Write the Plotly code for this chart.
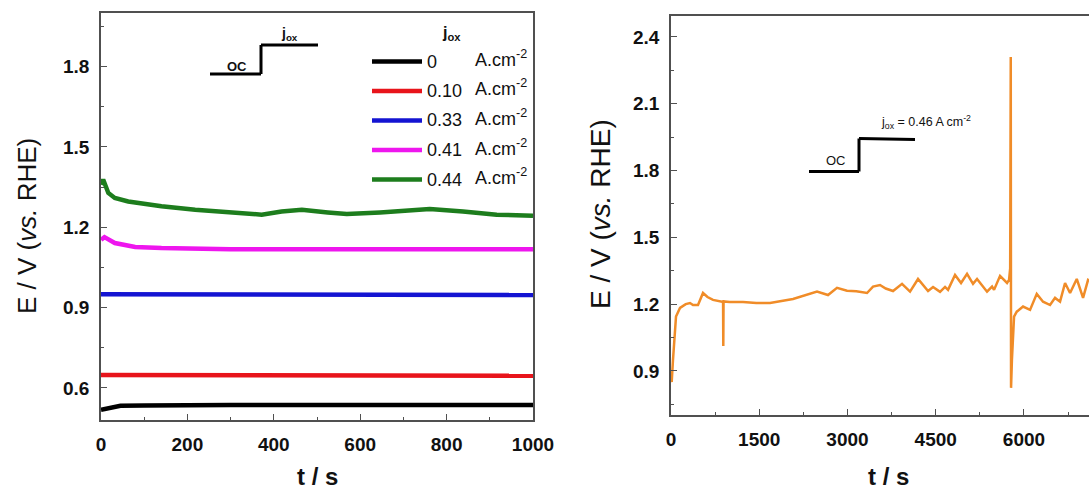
import plotly.graph_objects as go

# ---------------- data (left panel) ----------------
jox_labels = ["0", "0.10", "0.33", "0.41", "0.44"]
colors = ["#000000", "#E8141B", "#1414D2", "#EE16EE", "#1D7D1D"]

t_black = [0, 10, 30, 45, 100, 200, 300, 1000]
E_black = [0.518, 0.522, 0.526, 0.533, 0.534, 0.536, 0.536, 0.536]

t_red = [0, 400, 410, 1000]
E_red = [0.648, 0.648, 0.645, 0.645]

t_blue = [0, 220, 230, 1000]
E_blue = [0.950, 0.950, 0.947, 0.947]

t_mag = [0, 8, 32, 79, 140, 218, 300, 1000]
E_mag = [1.153, 1.163, 1.141, 1.126, 1.122, 1.118, 1.118, 1.118]

t_green = [0, 5, 17, 32, 63, 140, 218, 294, 372, 418, 465, 525, 569, 646, 761, 838, 916, 1000]
E_green = [1.359, 1.378, 1.328, 1.309, 1.296, 1.278, 1.265, 1.255, 1.247, 1.259, 1.265,
           1.255, 1.249, 1.255, 1.268, 1.259, 1.247, 1.243]

left_t = [t_black, t_red, t_blue, t_mag, t_green]
left_E = [E_black, E_red, E_blue, E_mag, E_green]

# ---------------- data (right panel) ----------------
t_orange = [0, 12, 34, 60, 85, 153, 250, 323, 374, 459, 544, 620, 714, 867, 885, 889, 893,
            1000, 1224, 1450, 1683, 2074, 2300, 2482, 2669, 2822, 2992, 3150, 3332, 3434,
            3553, 3650, 3774, 3927, 4063, 4199, 4369, 4454, 4573, 4658, 4709, 4828, 4930,
            5032, 5134, 5202, 5372, 5457, 5491, 5593, 5712, 5746, 5765, 5775, 5780, 5795,
            5831, 5877, 5984, 6103, 6217, 6324, 6443, 6528, 6613, 6698, 6783, 6897, 7004,
            7089, 7150]
E_orange = [0.86, 0.85, 0.95, 1.08, 1.144, 1.183, 1.20, 1.205, 1.196, 1.196, 1.25, 1.232,
            1.219, 1.211, 1.212, 1.012, 1.212, 1.21, 1.21, 1.205, 1.205, 1.223, 1.24, 1.256,
            1.241, 1.273, 1.26, 1.258, 1.25, 1.279, 1.286, 1.27, 1.259, 1.291, 1.256, 1.313,
            1.259, 1.277, 1.255, 1.277, 1.264, 1.331, 1.295, 1.336, 1.291, 1.313, 1.256,
            1.279, 1.264, 1.327, 1.295, 1.309, 1.36, 2.31, 0.824, 0.95, 1.144, 1.166, 1.189,
            1.174, 1.246, 1.211, 1.196, 1.228, 1.211, 1.295, 1.25, 1.313, 1.228, 1.309, 1.30]

W, H = 1089, 490
FONT = "Liberation Sans, Arial, sans-serif"
AXC = "#505050"


def px(x):
    return x / W


def py(y):
    return 1 - y / H


fig = go.Figure()

for tt, ee, c, lab in zip(left_t, left_E, colors, jox_labels):
    fig.add_trace(go.Scatter(x=tt, y=ee, mode="lines", line=dict(color=c, width=4.5),
                             name=lab, showlegend=False, xaxis="x", yaxis="y"))

fig.add_trace(go.Scatter(x=t_orange, y=E_orange, mode="lines",
                         line=dict(color="#F08C28", width=2.5), showlegend=False,
                         xaxis="x2", yaxis="y2"))

tickfont = dict(family=FONT, size=19, color="#111", weight="bold")
common = dict(showline=True, linecolor=AXC, linewidth=1.5, ticks="inside", ticklen=6,
              tickcolor=AXC, tickwidth=1.2, showgrid=False, zeroline=False,
              tickfont=tickfont, ticklabelstandoff=6)

fig.update_layout(
    width=W, height=H, margin=dict(l=0, r=0, t=0, b=0, autoexpand=False),
    plot_bgcolor="white", paper_bgcolor="white",
    xaxis=dict(domain=[px(101), px(533)], range=[0, 1000], dtick=200, tick0=0,
               mirror=True, anchor="y",
               minor=dict(ticks="inside", ticklen=3, dtick=100, tickcolor=AXC), **common),
    yaxis=dict(domain=[py(420), py(13)], range=[0.48, 2.0], dtick=0.3, tick0=0,
               tickformat=".1f", mirror=True, anchor="x",
               minor=dict(ticks="inside", ticklen=3, dtick=0.15, tickcolor=AXC), **common),
    xaxis2=dict(domain=[px(671), 1.0], range=[0, 7105], dtick=1500, tick0=0,
                mirror=True, anchor="y2",
                minor=dict(ticks="inside", ticklen=3, dtick=750, tickcolor=AXC), **common),
    yaxis2=dict(domain=[py(415), py(16)], range=[0.702, 2.494], dtick=0.3, tick0=0,
                tickformat=".1f", mirror=False, anchor="x2",
                minor=dict(ticks="inside", ticklen=3, dtick=0.15, tickcolor=AXC), **common),
)

shapes = []
ann = []


def text(x, y, s, size, bold=False, xanchor="center", angle=0):
    f = dict(family=FONT, size=size, color="#111")
    if bold:
        f["weight"] = "bold"
    ann.append(dict(x=px(x), y=py(y), xref="paper", yref="paper", text=s, showarrow=False,
                    xanchor=xanchor, yanchor="middle", textangle=angle, font=f))


# axis titles
text(27, 226, "E / V (<i>vs.</i> RHE)", 26, angle=-90)
text(600, 214, "E / V (<i>vs.</i> RHE)", 28, angle=-90)
for xc in (317, 888):
    text(xc, 476, "t / s", 24, bold=True)

# left inset step
blk = dict(color="black", width=3)
for (x0, y0, x1, y1) in [(210, 74, 261, 74), (261, 74, 261, 45), (261, 45, 318, 45)]:
    shapes.append(dict(type="line", xref="paper", yref="paper", x0=px(x0), y0=py(y0),
                       x1=px(x1), y1=py(y1), line=blk))
text(237, 66, "OC", 13, bold=True)
text(289, 34, "j<sub>ox</sub>", 14, bold=True)

# manual legend
text(451, 33, "j<sub>ox</sub>", 16, bold=True)
ys = [61.5, 91, 120.5, 150, 179.5]
for lab, c, yy in zip(jox_labels, colors, ys):
    shapes.append(dict(type="line", xref="paper", yref="paper", x0=px(372), x1=px(422),
                       y0=py(yy), y1=py(yy), line=dict(color=c, width=4.5)))
    text(425, yy, lab, 18, xanchor="left")
    text(473, yy - 3, "A.cm<sup>-2</sup>", 18, xanchor="left")

# right inset step
for (x0, y0, x1, y1) in [(809, 171.5, 859, 171.5), (859, 171.5, 859, 138.5), (859, 138.5, 915, 139.5)]:
    shapes.append(dict(type="line", xref="paper", yref="paper", x0=px(x0), y0=py(y0),
                       x1=px(x1), y1=py(y1), line=blk))
text(836, 161, "OC", 13)
text(879, 122, "j<sub>ox</sub> = 0.46 A cm<sup>-2</sup>", 12.5, xanchor="left")

fig.update_layout(shapes=shapes, annotations=ann)
fig.write_html("out.html",
               post_script="document.body.style.margin='0';document.body.style.overflow='hidden';")
